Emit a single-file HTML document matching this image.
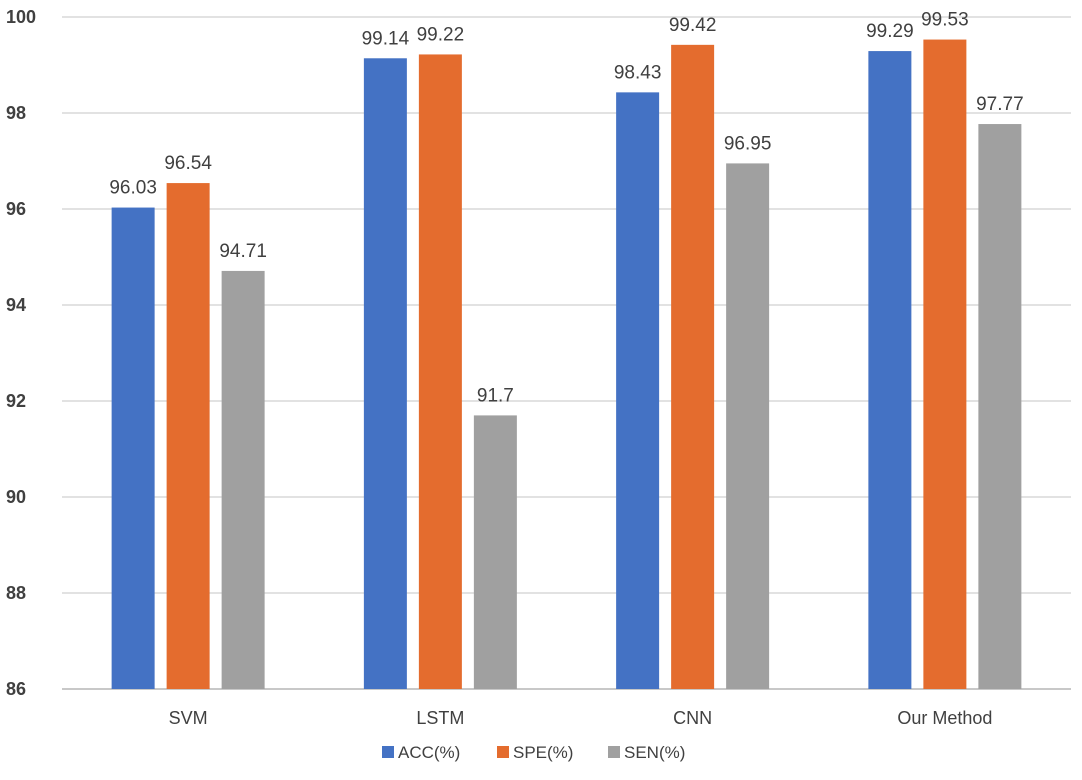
<!DOCTYPE html>
<html><head><meta charset="utf-8"><style>
html,body{margin:0;padding:0;background:#fff;}
svg text{font-family:"Liberation Sans",sans-serif;fill:#404040;}
</style></head><body>
<svg id="chart" width="1082" height="775" viewBox="0 0 1082 775">
<g id="grid"></g><g id="bars"></g><g id="labels"></g><g id="legend"></g>
</svg>
<script>
const categories = ["SVM","LSTM","CNN","Our Method"];
const seriesNames = ["ACC(%)","SPE(%)","SEN(%)"];
const acc = [96.03, 99.14, 98.43, 99.29];
const spe = [96.54, 99.22, 99.42, 99.53];
const sen = [94.71, 91.7, 96.95, 97.77];
const yTicks = [86,88,90,92,94,96,98,100];
const colors = ["#4472C4","#E46C2E","#A0A0A0"];
const series = [acc, spe, sen];

const NS = "http://www.w3.org/2000/svg";
const plotL = 62, plotR = 1071, plotT = 17, plotB = 689;
const yMin = 86, yMax = 100;
const yScale = v => plotB - (v - yMin) / (yMax - yMin) * (plotB - plotT);
const catW = (plotR - plotL) / categories.length;
const xc = i => plotL + catW * (i + 0.5);
const barW = 43, barGap = 12;
function mk(tag, attrs, parent){const e=document.createElementNS(NS,tag);for(const k in attrs)e.setAttribute(k,attrs[k]);parent.appendChild(e);return e;}

const gridG = document.getElementById('grid');
yTicks.forEach(t=>{
  const l = mk('line',{x1:plotL,x2:plotR,y1:yScale(t),y2:yScale(t),stroke:t===86?'#c8c8c8':'#d9d9d9','stroke-width':t===86?2:1.5},gridG);
  
  
  const tx = mk('text',{x:6,y:yScale(t)+6,'font-size':18,'font-weight':'bold'},gridG);
  tx.textContent = t;
  
  
});

const barsG = document.getElementById('bars'), labelsG = document.getElementById('labels');
categories.forEach((c,i)=>{
  const start = xc(i) - (3*barW + 2*barGap)/2;
  series.forEach((s,j)=>{
    const x = start + j*(barW+barGap);
    const r = mk('rect',{x:x,y:yScale(s[i]),width:barW,height:plotB-yScale(s[i]),fill:colors[j]},barsG);
    
    
    const t = mk('text',{x:x+barW/2,y:yScale(s[i])-14,'font-size':19,'text-anchor':'middle'},labelsG);
    t.textContent = s[i];
    
    
  });
  const cl = mk('text',{x:xc(i),y:724,'font-size':18,'text-anchor':'middle'},labelsG);
  cl.textContent = c;
  
  
});

const legendG = document.getElementById('legend');
const legX = [382,497,608];
seriesNames.forEach((n,j)=>{
  const g = mk('g',{},legendG);
  
  
  mk('rect',{x:legX[j],y:746,width:12,height:12,fill:colors[j]},g);
  const t = mk('text',{x:legX[j]+16,y:758,'font-size':17},g);
  t.textContent = n;
});
</script>
</body></html>
